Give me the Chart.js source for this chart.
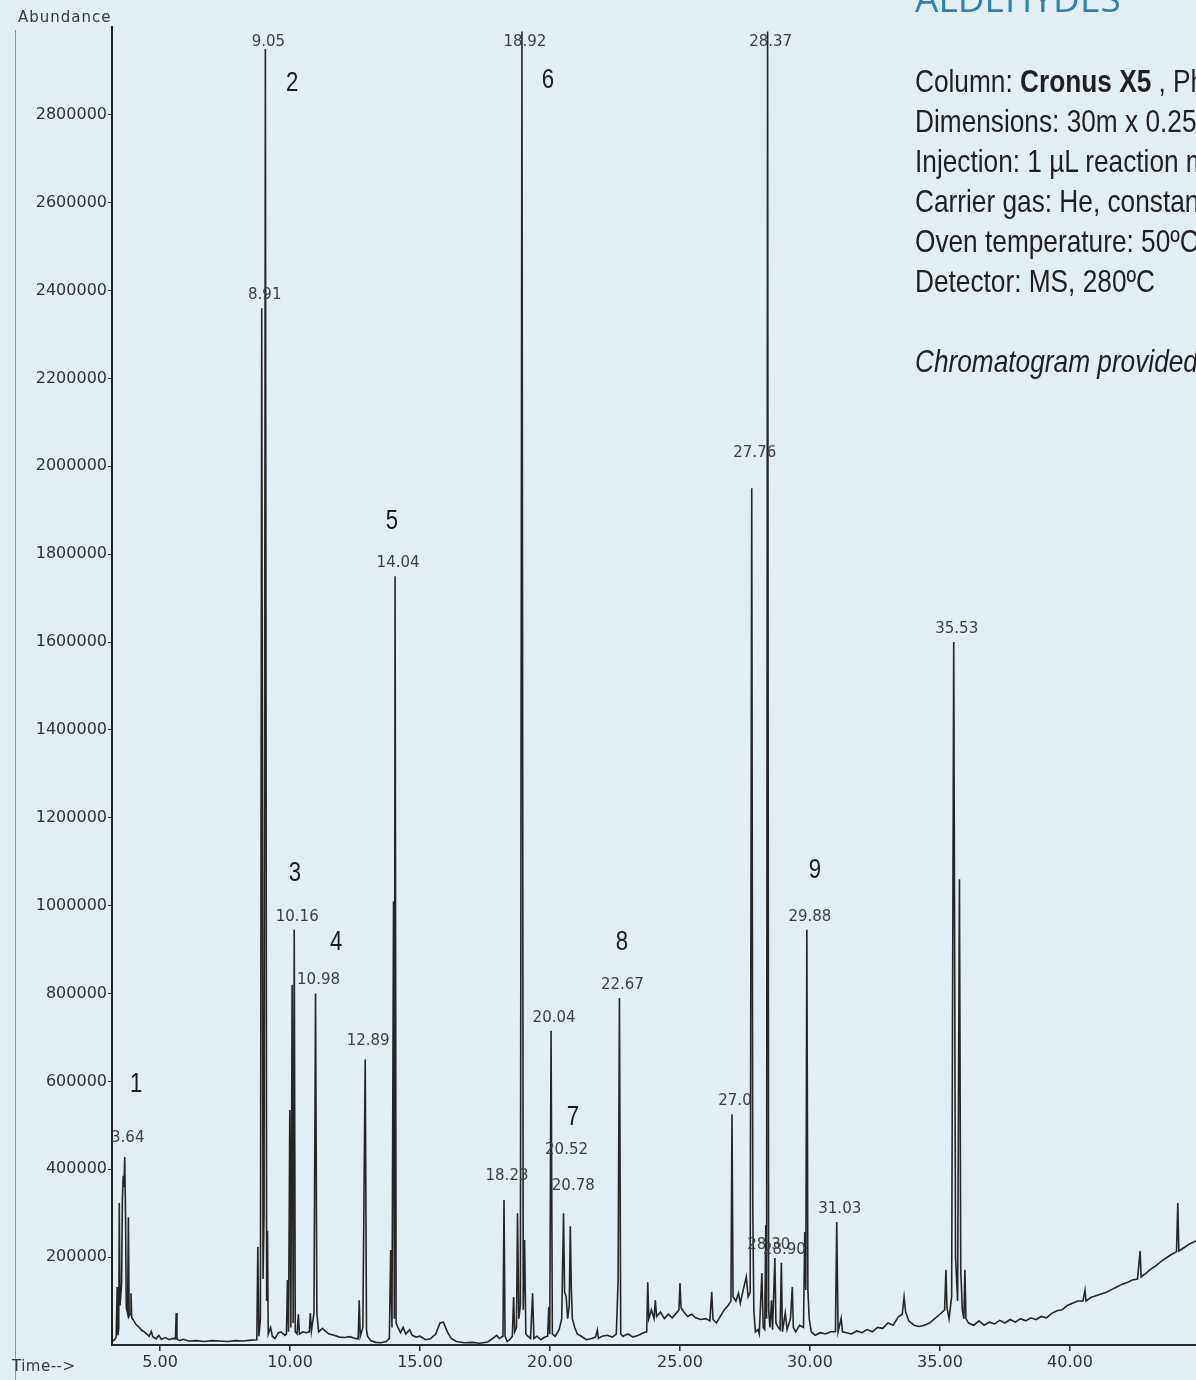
<!DOCTYPE html>
<html>
<head>
<meta charset="utf-8">
<title>Aldehydes chromatogram</title>
<script src="https://cdn.jsdelivr.net/npm/chart.js@4.4.1/dist/chart.umd.min.js"></script>
<style>
  html, body { margin: 0; padding: 0; }
  body {
    width: 1196px; height: 1380px; overflow: hidden; position: relative;
    background: #e2edf4; font-family: "DejaVu Sans", sans-serif;
  }
  #chart { position: absolute; left: 0; top: 0; }
  .frame { position: absolute; left: 15px; top: 30px; width: 1px; height: 1350px; background: rgba(70,70,70,0.55); }
  .axisname { position: absolute; font-size: 15px; color: #3a3a3a; letter-spacing: 1px; white-space: nowrap; }
  .title {
    position: absolute; left: 915px; top: -21px; font-family: "Open Sans", sans-serif;
    font-size: 37px; line-height: 37px; color: #2a82b0; white-space: nowrap;
  }
  .info {
    position: absolute; left: 915px; font-family: "Liberation Sans", Arial, sans-serif;
    font-size: 32px; line-height: 32px; color: #231f20; white-space: nowrap;
    transform: scaleX(0.82); transform-origin: 0 0;
  }
</style>
</head>
<body>
<canvas id="chart" width="1196" height="1380"></canvas>
<div class="frame"></div>
<div class="axisname" style="left:18px; top:8px;">Abundance</div>
<div class="axisname" style="left:12px; top:1357px; letter-spacing:0.5px;">Time--&gt;</div>
<div class="title">ALDEHYDES</div>
<div class="info" style="top:65px;">Column: <b>Cronus X5</b> , Phenomenex</div>
<div class="info" style="top:105px;">Dimensions: 30m x 0.25mm x 0.25µm</div>
<div class="info" style="top:145px;">Injection: 1 µL reaction mixture</div>
<div class="info" style="top:185px;">Carrier gas: He, constant flow</div>
<div class="info" style="top:225px;">Oven temperature: 50ºC</div>
<div class="info" style="top:265px;">Detector: MS, 280ºC</div>
<div class="info" style="top:345px;"><i>Chromatogram provided by</i></div>
<script>
// retention time (min) and abundance (thousands)
const retTime = [
  3.15, 3.25, 3.31, 3.35, 3.38, 3.41, 3.43, 3.46, 3.52, 3.55, 3.58, 3.61, 3.64, 3.67, 3.70, 3.75, 3.78, 3.81, 3.85, 3.88,
  3.91, 3.97, 4.08, 4.2, 4.3, 4.4, 4.5, 4.58, 4.66, 4.72, 4.85, 4.95, 5.05, 5.2, 5.35, 5.5, 5.59, 5.62, 5.65, 5.75,
  5.9, 6.1, 6.4, 6.7, 7.0, 7.3, 7.6, 7.9, 8.2, 8.5, 8.72, 8.76, 8.80, 8.86, 8.91, 8.96, 9.00, 9.05, 9.10, 9.13,
  9.16, 9.25, 9.32, 9.42, 9.55, 9.65, 9.80, 9.86, 9.90, 9.94, 9.99, 10.03, 10.08, 10.12, 10.16, 10.20, 10.27, 10.32, 10.36, 10.5,
  10.62, 10.74, 10.78, 10.82, 10.92, 10.98, 11.03, 11.1, 11.25, 11.35, 11.5, 11.7, 11.9, 12.1, 12.3, 12.5, 12.62, 12.66, 12.70, 12.80,
  12.89, 12.94, 12.98, 13.1, 13.3, 13.5, 13.7, 13.82, 13.87, 13.92, 13.98, 14.01, 14.04, 14.08, 14.15, 14.25, 14.35, 14.45, 14.6, 14.7,
  14.85, 15.0, 15.2, 15.4, 15.6, 15.77, 15.9, 16.05, 16.2, 16.4, 16.7, 17.0, 17.3, 17.6, 17.8, 17.95, 18.05, 18.19, 18.23, 18.27,
  18.35, 18.45, 18.55, 18.60, 18.64, 18.71, 18.75, 18.80, 18.86, 18.92, 18.97, 19.02, 19.07, 19.15, 19.25, 19.33, 19.38, 19.5, 19.65, 19.8,
  19.91, 19.95, 19.99, 20.04, 20.09, 20.2, 20.35, 20.45, 20.52, 20.56, 20.62, 20.68, 20.74, 20.78, 20.82, 20.86, 20.95, 21.05, 21.2, 21.4,
  21.6, 21.75, 21.82, 21.86, 22.0, 22.2, 22.4, 22.55, 22.62, 22.67, 22.72, 22.8, 23.0, 23.2, 23.4, 23.6, 23.72, 23.76, 23.80, 23.9,
  24.0, 24.05, 24.1, 24.25, 24.4, 24.55, 24.7, 24.85, 24.96, 25.0, 25.04, 25.15, 25.3, 25.45, 25.6, 25.8, 26.0, 26.15, 26.22, 26.27,
  26.4, 26.55, 26.7, 26.85, 26.96, 27.00, 27.04, 27.15, 27.25, 27.32, 27.45, 27.55, 27.62, 27.70, 27.76, 27.80, 27.84, 27.9, 28.0, 28.05,
  28.15, 28.2, 28.26, 28.30, 28.33, 28.37, 28.41, 28.46, 28.52, 28.56, 28.65, 28.69, 28.78, 28.85, 28.90, 28.94, 29.05, 29.12, 29.25, 29.32,
  29.36, 29.45, 29.6, 29.75, 29.80, 29.84, 29.88, 29.92, 29.97, 30.05, 30.2, 30.4, 30.6, 30.8, 30.98, 31.03, 31.08, 31.2, 31.25, 31.4,
  31.6, 31.8, 32.0, 32.2, 32.4, 32.6, 32.8, 33.0, 33.2, 33.4, 33.55, 33.62, 33.68, 33.8, 34.0, 34.2, 34.4, 34.6, 34.8, 35.0,
  35.18, 35.23, 35.27, 35.35, 35.45, 35.53, 35.60, 35.68, 35.75, 35.80, 35.86, 35.92, 35.96, 36.0, 36.1, 36.3, 36.5, 36.7, 36.9, 37.1,
  37.3, 37.5, 37.7, 37.9, 38.1, 38.3, 38.5, 38.7, 38.9, 39.1, 39.3, 39.5, 39.7, 39.9, 40.1, 40.3, 40.5, 40.58, 40.62, 40.8,
  41.0, 41.2, 41.4, 41.6, 41.8, 42.0, 42.2, 42.4, 42.6, 42.70, 42.74, 42.9, 43.1, 43.3, 43.5, 43.7, 43.9, 44.1, 44.15, 44.19,
  44.4, 44.6, 44.85
];
const abundanceK = [
  8, 12, 18, 132, 22, 40, 323, 90, 140, 330, 385, 360, 428, 300, 85, 72, 291, 66, 70, 118,
  62, 57, 46, 40, 33, 30, 24, 20, 31, 19, 14, 22, 13, 17, 12, 15, 14, 73, 14, 10,
  13, 9, 10, 8, 10, 9, 8, 10, 9, 11, 12, 223, 20, 60, 2360, 150, 300, 2950, 100, 260,
  25, 40, 20, 15, 28, 30, 22, 25, 148, 30, 535, 40, 820, 50, 945, 30, 25, 70, 25, 30,
  28, 30, 73, 32, 73, 800, 73, 30, 38, 32, 25, 22, 18, 17, 19, 15, 14, 102, 20, 40,
  650, 35, 20, 10, 6, 5, 8, 15, 216, 40, 1010, 60, 1750, 50, 40, 28, 40, 25, 35, 22,
  18, 20, 12, 14, 25, 50, 52, 30, 15, 8, 5, 6, 4, 7, 15, 22, 15, 20, 330, 20,
  8, 12, 20, 109, 30, 40, 300, 60, 90, 2990, 80, 239, 25, 20, 15, 118, 15, 20, 12, 18,
  20, 86, 25, 715, 25, 20, 35, 60, 300, 120, 110, 60, 90, 270, 125, 60, 40, 25, 20, 12,
  15, 18, 34, 15, 20, 22, 18, 25, 148, 790, 25, 20, 25, 18, 22, 28, 30, 143, 60, 80,
  60, 102, 65, 75, 60, 70, 62, 72, 80, 141, 85, 75, 65, 70, 62, 58, 60, 55, 121, 58,
  50, 65, 80, 90, 100, 525, 110, 100, 118, 95, 130, 155, 110, 120, 1950, 314, 80, 30, 35, 25,
  164, 40, 35, 273, 60, 2990, 80, 40, 102, 35, 198, 50, 40, 35, 187, 30, 73, 35, 60, 132,
  40, 30, 45, 40, 257, 125, 945, 125, 60, 30, 22, 28, 25, 30, 30, 280, 30, 61, 30, 28,
  25, 32, 28, 35, 30, 40, 38, 50, 45, 64, 70, 109, 75, 55, 45, 42, 45, 50, 60, 70,
  80, 171, 85, 60, 110, 1600, 200, 100, 1060, 171, 80, 60, 171, 60, 50, 45, 55, 45, 52, 48,
  56, 50, 58, 52, 60, 55, 62, 58, 65, 62, 72, 78, 80, 90, 95, 100, 100, 125, 100, 108,
  112, 116, 120, 126, 132, 138, 142, 148, 150, 214, 155, 162, 172, 180, 190, 198, 206, 212, 323, 214,
  222, 230, 237
];

const timeTicks = [5, 10, 15, 20, 25, 30, 35, 40];
const abundanceTicks = [200000, 400000, 600000, 800000, 1000000, 1200000, 1400000,
  1600000, 1800000, 2000000, 2200000, 2400000, 2600000, 2800000];

// retention times printed above the peaks
const rtLabelTimes = [3.64, 8.91, 9.05, 10.16, 10.98, 12.89, 14.04, 18.23, 18.92, 20.04, 20.52,
  20.78, 22.67, 27.00, 27.76, 28.30, 28.37, 28.90, 29.88, 31.03, 35.53];
const rtLabelText = ["3.64", "8.91", "9.05", "10.16", "10.98", "12.89", "14.04", "18.23", "18.92", "20.04", "20.52",
  "20.78", "22.67", "27.0", "27.76", "28.30", "28.37", "28.90", "29.88", "31.03", "35.53"];

// compound numbers (anchored at time / abundance in thousands)
const peakNumbers = ["1", "2", "3", "4", "5", "6", "7", "8", "9"];
const numberTimes = [4.08, 10.08, 10.19, 11.77, 13.92, 19.92, 20.88, 22.77, 30.19];
const numberLevelsK = [592, 2872, 1074, 917, 1875, 2877, 517, 915, 1081];

const points = retTime.map((t, i) => ({ x: t, y: abundanceK[i] * 1000 }));

// labels that the integrator stacked away from their apex
const labelNudge = { "27.76": -22, "20.52": -50, "20.78": -27, "28.30": 33, "12.89": -5, "3.64": -6, "18.23": -11 };

const peakLabels = {
  id: "peakLabels",
  afterDatasetsDraw(chart) {
    const ctx = chart.ctx;
    const xs = chart.scales.x;
    const ys = chart.scales.y;
    ctx.save();
    ctx.font = '15px "DejaVu Sans"';
    ctx.fillStyle = "#404040";
    ctx.textAlign = "center";
    ctx.textBaseline = "middle";
    rtLabelTimes.forEach((t, i) => {
      const idx = retTime.indexOf(t);
      const apex = abundanceK[idx] * 1000;
      const dy = labelNudge[rtLabelText[i]] || 0;
      const px = xs.getPixelForValue(t) + 3;
      const py = Math.max(42, ys.getPixelForValue(apex) - 13 + dy);
      ctx.fillText(rtLabelText[i], px, py);
    });
    // narrow face for the compound numbers
    ctx.font = '27px "Liberation Sans", Arial, sans-serif';
    ctx.fillStyle = "#1c1c1c";
    peakNumbers.forEach((n, i) => {
      ctx.save();
      ctx.translate(xs.getPixelForValue(numberTimes[i]), ys.getPixelForValue(numberLevelsK[i] * 1000));
      ctx.scale(0.82, 1);
      ctx.fillText(n, 0, 0);
      ctx.restore();
    });
    ctx.restore();
  }
};

const tickFont = { family: "DejaVu Sans", size: 16 };

new Chart(document.getElementById("chart"), {
  type: "line",
  data: {
    datasets: [{
      label: "TIC",
      data: points,
      borderColor: "#262626",
      borderWidth: 1.6,
      pointRadius: 0,
      tension: 0,
      fill: false
    }]
  },
  options: {
    responsive: false,
    animation: false,
    layout: { padding: { top: 27, right: 0, bottom: 0, left: 0 } },
    plugins: { legend: { display: false }, tooltip: { enabled: false } },
    scales: {
      x: {
        type: "linear",
        min: 3.15,
        max: 44.85,
        afterBuildTicks: (s) => { s.ticks = timeTicks.map((v) => ({ value: v })); },
        afterFit: (s) => { s.height = 35; },
        grid: { drawOnChartArea: false, drawTicks: true, tickLength: 6, color: "#333", lineWidth: 1.5 },
        border: { display: true, color: "#2a2a2a", width: 2 },
        ticks: { color: "#333", font: tickFont, padding: 2, maxRotation: 0, autoSkip: false,
          callback: (v) => Number(v).toFixed(2) }
      },
      y: {
        min: 0,
        max: 3000000,
        afterBuildTicks: (s) => { s.ticks = abundanceTicks.map((v) => ({ value: v })); },
        afterFit: (s) => { s.width = 112; },
        grid: { drawOnChartArea: false, drawTicks: true, tickLength: 4, color: "#333" },
        border: { display: true, color: "#222", width: 2 },
        ticks: { color: "#333", font: tickFont, padding: 1, autoSkip: false,
          callback: (v) => String(v) }
      }
    }
  },
  plugins: [peakLabels]
});
</script>
</body>
</html>
